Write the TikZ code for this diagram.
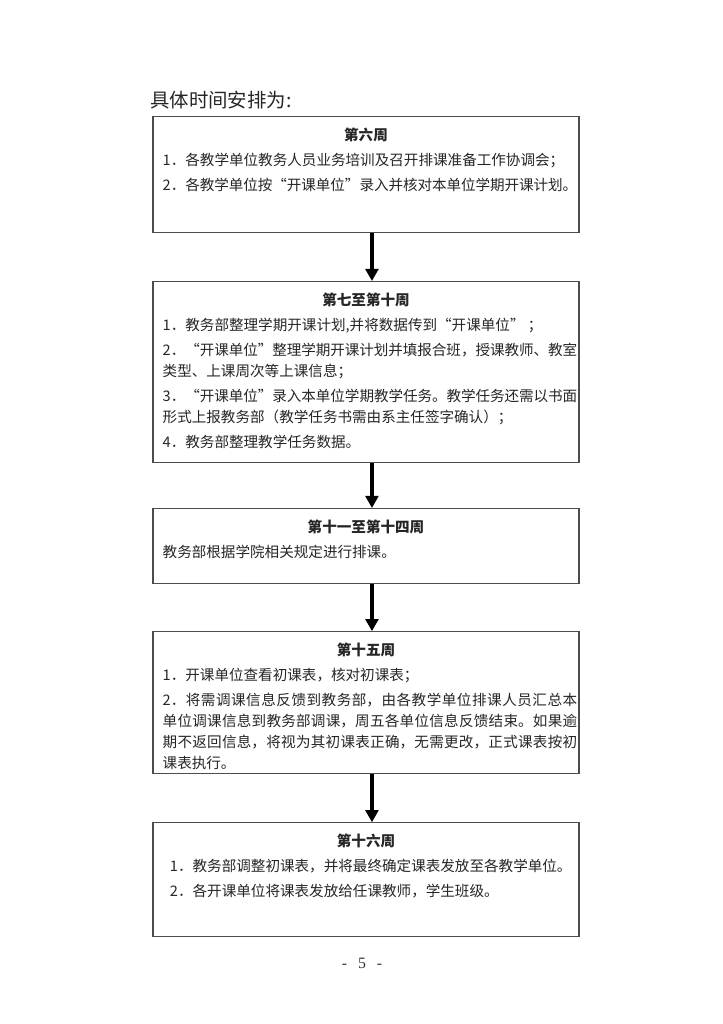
\documentclass[tikz,border=0pt]{standalone}
\usepackage{fontspec}
\setmainfont{Noto Sans CJK SC}
\newfontfamily\latin{Liberation Serif}
\usetikzlibrary{positioning,arrows.meta}
\XeTeXlinebreaklocale "zh"
\XeTeXlinebreakskip=0pt plus 1pt minus 0.3pt
\tikzset{
  week/.style={draw=black!70, line width=0.9pt, inner sep=0pt, text=black!85,
    font=\fontsize{12pt}{17.3pt}\selectfont},
  flow/.style={-{Triangle[length=10pt, width=10.5pt]}, line width=3.3pt},
  heading/.style={font=\fontsize{16pt}{18pt}\selectfont, anchor=west, inner sep=0pt, text=black!85},
  pageno/.style={font=\latin\fontsize{13pt}{14pt}\selectfont, inner sep=0pt, text=black!80},
}
% box of one stage: [extra indent]{height}{title}{items}
\newcommand{\weekbox}[4][0pt]{%
  \begin{minipage}[t][#2][t]{350.8pt}
    \setlength{\parskip}{3.3pt}\setlength{\parindent}{0pt}%
    \vspace*{9pt}%
    {\centering\bfseries #3\par}%
    \leftskip=\dimexpr8pt+#1\relax \rightskip=1.5pt
    #4%
  \end{minipage}}

\begin{document}
\begin{tikzpicture}[x=0.8234pt, y=-0.8234pt, node distance=39.5pt]
  \fill[white] (0,0) rectangle (723,1024);
  \useasboundingbox (0,0) rectangle (723,1024);
  \node[heading] (plan) at (150,100) {具体时间安排为:};
  \node[week, anchor=north] (wk6) at (366,116) {\weekbox{95.5pt}{第六周}{%
    1．各教学单位教务人员业务培训及召开排课准备工作协调会；\par
    2．各教学单位按“开课单位”录入并核对本单位学期开课计划。}};
  \node[week, below=of wk6] (wk7) {\weekbox{149pt}{第七至第十周}{%
    1．教务部整理学期开课计划,并将数据传到“开课单位”\ ；\par
    2．“开课单位”整理学期开课计划并填报合班，授课教师、教室\linebreak 类型、上课周次等上课信息；\par
    3．“开课单位”录入本单位学期教学任务。教学任务还需以书面\linebreak 形式上报教务部（教学任务书需由系主任签字确认）；\par
    4．教务部整理教学任务数据。}};
  \node[week, below=37pt of wk7] (wk11) {\weekbox{61.8pt}{第十一至第十四周}{%
    教务部根据学院相关规定进行排课。}};
  \node[week, below=38.7pt of wk11] (wk15) {\weekbox{116.9pt}{第十五周}{%
    1．开课单位查看初课表，核对初课表；\par
    2．将需调课信息反馈到教务部，由各教学单位排课人员汇总本\linebreak 单位调课信息到教务部调课，周五各单位信息反馈结束。如果逾\linebreak 期不返回信息，将视为其初课表正确，无需更改，正式课表按初\linebreak 课表执行。}};
  \node[week, below=of wk15] (wk16) {\weekbox[6pt]{93.9pt}{第十六周}{%
    1．教务部调整初课表，并将最终确定课表发放至各教学单位。\par
    2．各开课单位将课表发放给任课教师，学生班级。}};
  \node[pageno] (page) at (362,963) {-\hspace{9pt}5\hspace{9pt}-};
  \draw[flow] ([xshift=4.9pt]wk6.south) -- ([xshift=4.9pt]wk7.north);
  \draw[flow] ([xshift=4.9pt]wk7.south) -- ([xshift=4.9pt]wk11.north);
  \draw[flow] ([xshift=4.9pt]wk11.south) -- ([xshift=4.9pt]wk15.north);
  \draw[flow] ([xshift=4.9pt]wk15.south) -- ([xshift=4.9pt]wk16.north);
\end{tikzpicture}
\end{document}
